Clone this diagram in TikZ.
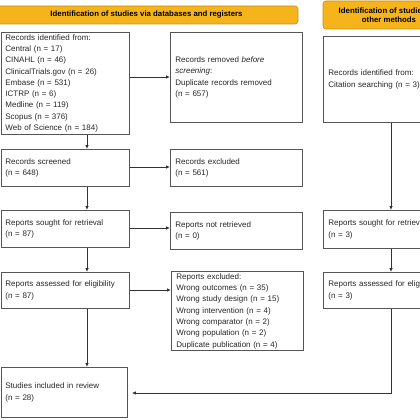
\documentclass[tikz,border=0pt]{standalone}
\usepackage{fontspec}
\setmainfont{Liberation Sans}
\usetikzlibrary{arrows.meta}
\definecolor{hdr}{HTML}{F5B41C}
\definecolor{hdrline}{HTML}{C98E10}
\definecolor{boxline}{HTML}{555555}
\definecolor{arr}{HTML}{333333}
\tikzset{
  hdrbox/.style={draw=hdrline,fill=hdr,rounded corners=3pt,line width=0.6pt,
    font=\fontsize{7.8}{9}\selectfont\bfseries,align=center,inner sep=1pt},
  flowbox/.style 2 args={draw=boxline,line width=0.8pt,anchor=north west,inner xsep=4pt,inner ysep=2pt,
    font=\fontsize{8}{11.3}\selectfont,align=left,text=black!85,
    minimum width=#1,minimum height=#2,text width=#1-8pt},
  conn/.style={draw=arr,line width=0.8pt,-{Latex[length=4pt,width=3.5pt]}},
}
\begin{document}
\begin{tikzpicture}[x=1pt,y=-1pt]
\useasboundingbox (0,0) rectangle (420,420);
% headers
\node[hdrbox,minimum width=303pt,minimum height=18pt] (h1) at (146.5,15) {Identification of studies via databases and registers};
\node[hdrbox,minimum width=132pt,minimum height=28pt] (h2) at (389,15) {Identification of studies via\\other methods};
% left column
\node[flowbox={128pt}{90pt}] (b1) at (1,32) {Records identified from:\\Central (n = 17)\\CINAHL (n = 46)\\ClinicalTrials.gov (n = 26)\\Embase (n = 531)\\ICTRP (n = 6)\\Medline (n = 119)\\Scopus (n = 376)\\Web of Science (n = 184)};
\node[flowbox={130pt}{90pt},inner xsep=5pt] (b2) at (170,32) {Records removed \textit{before}\\\textit{screening}:\\Duplicate records removed\\(n = 657)};
\node[flowbox={128pt}{37pt}] (b3) at (1,149) {Records screened\\(n = 648)};
\node[flowbox={130pt}{37pt},inner xsep=5pt] (b4) at (170,149) {Records excluded\\(n = 561)};
\node[flowbox={128pt}{37pt}] (b5) at (1,210) {Reports sought for retrieval\\(n = 87)};
\node[flowbox={130pt}{37pt},inner xsep=5pt] (b6) at (170,212) {Reports not retrieved\\(n = 0)};
\node[flowbox={128pt}{36pt}] (b7) at (1,272) {Reports assessed for eligibility\\(n = 87)};
\node[flowbox={130pt}{79pt},inner xsep=5pt] (b8) at (171,271) {Reports excluded:\\Wrong outcomes (n = 35)\\Wrong study design (n = 15)\\Wrong intervention (n = 4)\\Wrong comparator (n = 2)\\Wrong population (n = 2)\\Duplicate publication (n = 4)};
\node[flowbox={126pt}{50pt}] (b9) at (1,367) {Studies included in review\\(n = 28)};
% right column
\node[flowbox={132pt}{86pt},inner xsep=5pt] (r1) at (323,36) {Records identified from:\\Citation searching (n = 3)};
\node[flowbox={132pt}{38pt},inner xsep=5pt] (r2) at (323,210) {Reports sought for retrieval\\(n = 3)};
\node[flowbox={132pt}{36pt},inner xsep=5pt] (r3) at (323,272) {Reports assessed for eligibility\\(n = 3)};
% connectors
\draw[conn] (b1.east |- 0,77) -- (b2.west |- 0,77);
\draw[conn] (b3.east |- 0,167) -- (b4.west |- 0,167);
\draw[conn] (b5.east |- 0,228) -- (b6.west |- 0,228);
\draw[conn] (b7.east |- 0,290) -- (b8.west |- 0,290);
\draw[conn] (87,0 |- b1.south) -- (87,0 |- b3.north);
\draw[conn] (87,0 |- b3.south) -- (87,0 |- b5.north);
\draw[conn] (87,0 |- b5.south) -- (87,0 |- b7.north);
\draw[conn] (87,0 |- b7.south) -- (87,0 |- b9.north);
\draw[conn] (391,0 |- r1.south) -- (391,0 |- r2.north);
\draw[conn] (391,0 |- r2.south) -- (391,0 |- r3.north);
\coordinate (bend) at (391,393);
\draw[conn] (391,0 |- r3.south) -- (bend) -- ([xshift=4pt]b9.east |- bend);
\end{tikzpicture}
\end{document}
